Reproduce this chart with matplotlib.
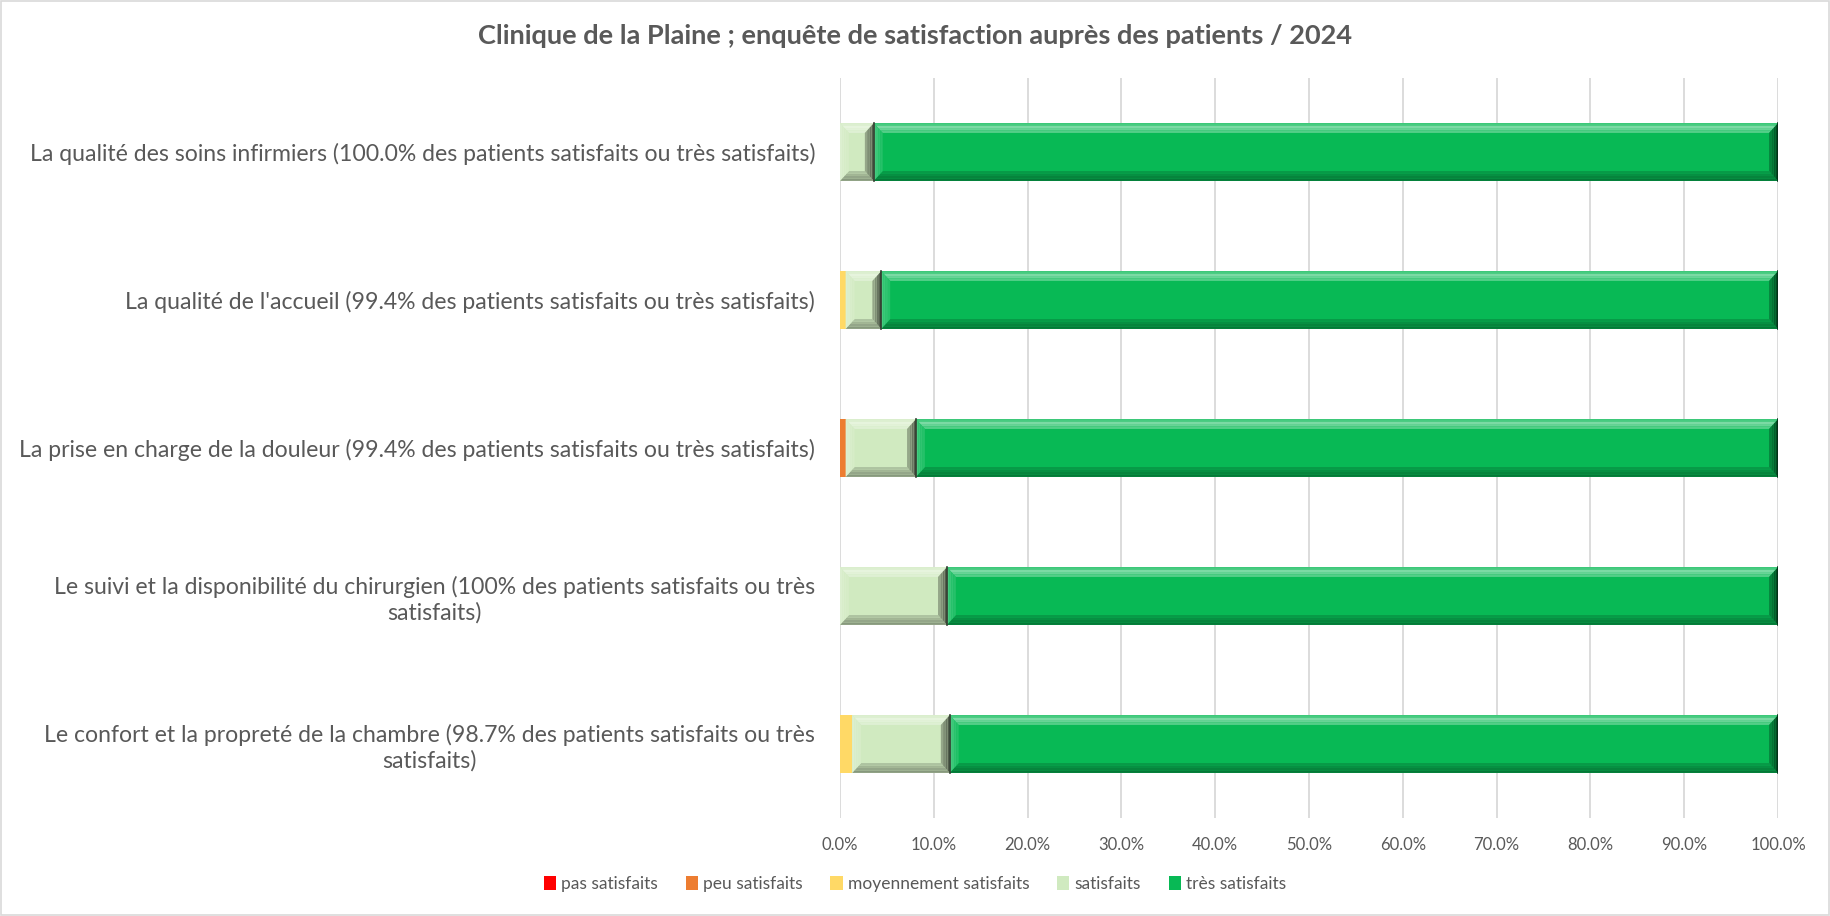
import matplotlib
matplotlib.use("Agg")
import matplotlib.pyplot as plt
import matplotlib.colors as mcolors
from matplotlib.patches import Polygon, Patch, Rectangle
import numpy as np

plt.rcParams['font.family'] = ['Lato', 'DejaVu Sans']

title = "Clinique de la Plaine ; enquête de satisfaction auprès des patients / 2024"
categories = [
    "Le confort et la propreté de la chambre (98.7% des patients satisfaits ou très\nsatisfaits)",
    "Le suivi et la disponibilité du chirurgien (100% des patients satisfaits ou très\nsatisfaits)",
    "La prise en charge de la douleur (99.4% des patients satisfaits ou très satisfaits)",
    "La qualité de l'accueil (99.4% des patients satisfaits ou très satisfaits)",
    "La qualité des soins infirmiers (100.0% des patients satisfaits ou très satisfaits)",
]
series_names = ["pas satisfaits", "peu satisfaits", "moyennement satisfaits", "satisfaits", "très satisfaits"]
pas_satisfaits = [0.0, 0.0, 0.0, 0.0, 0.0]
peu_satisfaits = [0.0, 0.0, 0.6, 0.0, 0.0]
moyennement_satisfaits = [1.3, 0.0, 0.0, 0.6, 0.0]
satisfaits = [10.4, 11.4, 7.5, 3.8, 3.6]
tres_satisfaits = [88.3, 88.6, 91.9, 95.6, 96.4]
xticks = [0, 10, 20, 30, 40, 50, 60, 70, 80, 90, 100]

colors = ["#FF0000", "#ED7D31", "#FFD966", "#D0EAC0", "#08B955"]
series = [pas_satisfaits, peu_satisfaits, moyennement_satisfaits, satisfaits, tres_satisfaits]

fig = plt.figure(figsize=(18.3, 9.16), dpi=100)
ax = fig.add_axes([840/1830, 1-818/916, (1778-840)/1830, (818-78)/916])

def mix(c, other, t):
    a = np.array(mcolors.to_rgb(c)); b = np.array(mcolors.to_rgb(other))
    return tuple(a*(1-t) + b*t)

h = 0.39
y = np.arange(len(categories))
left = np.zeros(len(categories))
steps = 4
for vals, col, name in zip(series, colors, series_names):
    vals = np.array(vals)
    ax.barh(y, vals, left=left, height=h, color=col, edgecolor='none', zorder=3, label=name)
    for yi, l, w in zip(y, left, vals):
        if w > 2:
            BX = 0.95
            BY = h*0.17
            x0, x1 = l, l + w
            y0, y1 = yi - h/2, yi + h/2
            for k in range(steps):
                f = k / steps
                g = (k + 1) / steps
                a = 1 - f
                ox0, ox1 = x0 + BX*f, x1 - BX*f
                oy0, oy1 = y0 + BY*f, y1 - BY*f
                ix0, ix1 = x0 + BX*g, x1 - BX*g
                iy0, iy1 = y0 + BY*g, y1 - BY*g
                facets = [
                    ([(ox0, oy1), (ox1, oy1), (ix1, iy1), (ix0, iy1)], mix(col, 'white', 0.55*(0.4+0.6*a) if k > 0 else 0.25)),
                    ([(ox0, oy0), (ox1, oy0), (ix1, iy0), (ix0, iy0)], mix(col, 'black', 0.35*(0.3+0.7*a))),
                    ([(ox0, oy0), (ox0, oy1), (ix0, iy1), (ix0, iy0)], mix(col, 'white', 0.25*(0.3+0.7*a))),
                    ([(ox1, oy0), (ox1, oy1), (ix1, iy1), (ix1, iy0)], mix(col, 'black', 0.6*(0.3+0.7*a))),
                ]
                for pts, fc in facets:
                    ax.add_patch(Polygon(pts, closed=True, facecolor=fc, edgecolor='none', zorder=4))
            ax.plot([x1, x1], [y0, y1], color=mix(col, 'black', 0.75), lw=1.2, zorder=5)
    left = left + vals

ax.set_xlim(0, 100)
ax.set_ylim(-0.5, len(categories) - 0.5)
ax.set_xticks(xticks)
ax.set_xticklabels([f"{v:.1f}%" for v in xticks], color="#595959", fontsize=12)
ax.set_yticks(y)
ax.set_yticklabels(categories, color="#595959", fontsize=16.6, ha='right', multialignment='center')
ax.tick_params(axis='both', length=0)
ax.tick_params(axis='y', pad=18)
ax.tick_params(axis='x', pad=14)
ax.grid(axis='x', color="#D9D9D9", lw=1.3, zorder=0)
for s in ax.spines.values():
    s.set_visible(False)

fig.text(0.5, 1-36/916, title, ha='center', va='center', fontsize=19.5, fontweight='bold', color="#595959")

handles = [Patch(facecolor=c, edgecolor='none') for c in colors]
fig.legend(handles, series_names, loc='center', bbox_to_anchor=(0.5, 1-884/916), ncol=5, frameon=False,
           fontsize=12.5, labelcolor="#595959", handlelength=0.7, handleheight=0.9, handletextpad=0.3,
           columnspacing=1.6)

fig.add_artist(Rectangle((0.0005, 0.001), 0.999, 0.998, transform=fig.transFigure, fill=False,
                         edgecolor="#D9D9D9", lw=1.2))

fig.savefig("out.png", dpi=100)
